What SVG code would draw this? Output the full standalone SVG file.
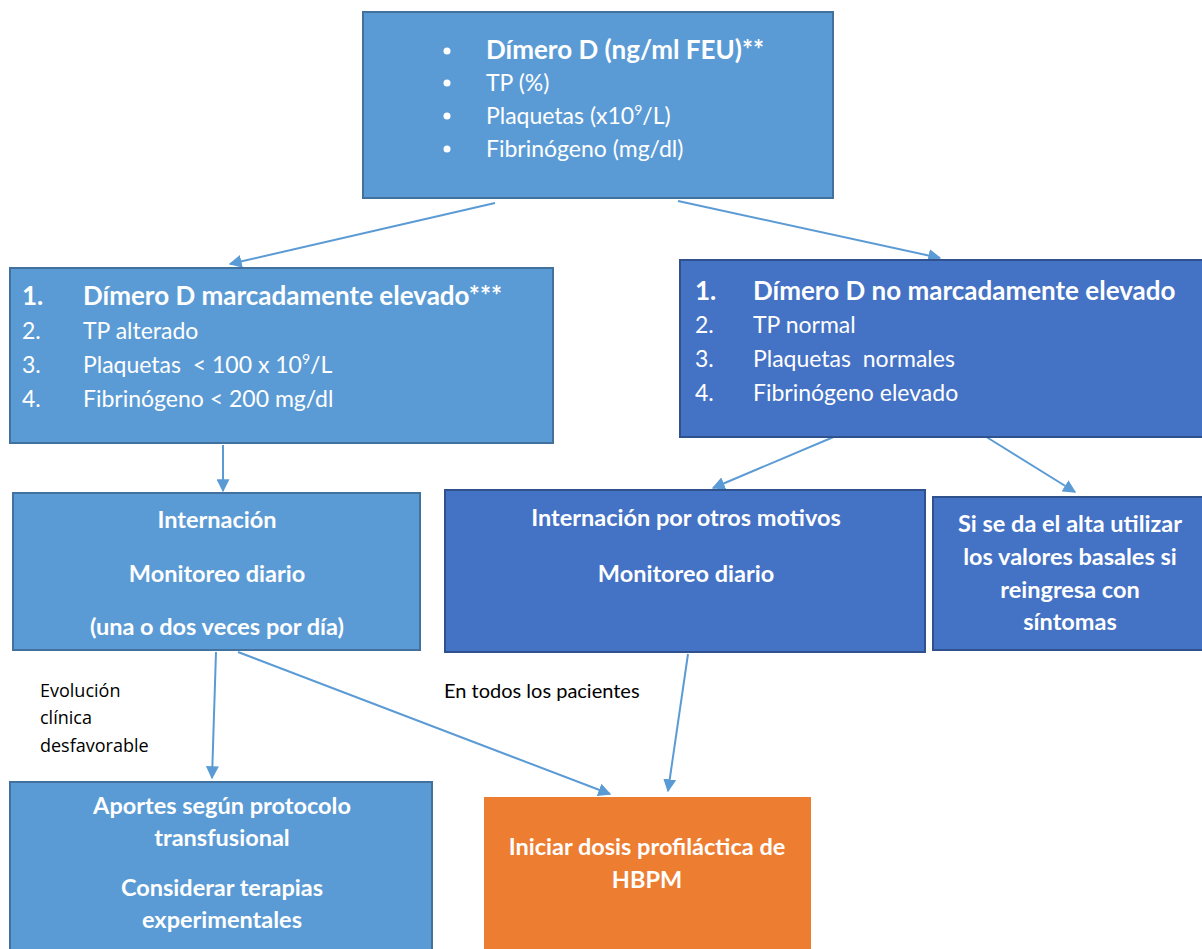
<svg xmlns="http://www.w3.org/2000/svg" width="1202" height="949" viewBox="0 0 1202 949">
<style>
.lb{fill:#5B9BD5;stroke:#41719C;stroke-width:2}
.db{fill:#4472C4;stroke:#2F528F;stroke-width:2}
.ob{fill:#ED7D31;stroke:#ED7D31;stroke-width:2}
.t{font-family:Lato,"Open Sans","Liberation Sans",sans-serif;fill:#fff;font-size:23px}
.h{font-size:26px;font-weight:bold}
.b{font-weight:bold;font-size:23.5px}
.c{text-anchor:middle}
.k{font-family:"Open Sans","Liberation Sans",sans-serif;fill:#000;font-size:18px}
.k2{font-family:Lato,"Liberation Sans",sans-serif;fill:#000;font-size:20px}
.cn{stroke:#5B9BD5;stroke-width:2;fill:none;marker-end:url(#ah)}
</style>
<defs>
<marker id="ah" viewBox="0 0 10 10" refX="9" refY="5" markerWidth="13" markerHeight="13" orient="auto" markerUnits="userSpaceOnUse">
<path d="M0,0 L10,5 L0,10 z" fill="#5B9BD5"/>
</marker>
</defs>
<rect width="1202" height="949" fill="#fff"/>
<g id="connectors">
<line class="cn" x1="495" y1="203" x2="230" y2="264"/>
<line class="cn" x1="678" y1="201" x2="940" y2="258"/>
<line class="cn" x1="223" y1="445" x2="223" y2="491"/>
<line class="cn" x1="843" y1="433" x2="713" y2="488"/>
<line class="cn" x1="980" y1="433" x2="1075" y2="492"/>
<line class="cn" x1="216" y1="652" x2="212" y2="778"/>
<line class="cn" x1="238" y1="652" x2="610" y2="794"/>
<line class="cn" x1="688" y1="654" x2="668" y2="791"/>
</g>
<g id="n-top">
<rect class="lb" x="363" y="12" width="470" height="186"/>
<circle cx="447" cy="51" r="3.5" fill="#fff"/>
<circle cx="447" cy="83" r="3.5" fill="#fff"/>
<circle cx="447" cy="116" r="3.5" fill="#fff"/>
<circle cx="447" cy="149" r="3.5" fill="#fff"/>
<text class="t h" x="486" y="59">Dímero D (ng/ml FEU)**</text>
<text class="t" x="486" y="91">TP (%)</text>
<text class="t" x="486" y="124">Plaquetas (x10<tspan font-size="14" dy="-9">9</tspan><tspan dy="9">/L)</tspan></text>
<text class="t" x="486" y="157">Fibrinógeno (mg/dl)</text>
</g>
<g id="n-elevado">
<rect class="lb" x="10" y="268" width="543" height="175"/>
<text class="t h" x="22" y="305">1.</text><text class="t h" x="83" y="305">Dímero D marcadamente elevado***</text>
<text class="t" x="22" y="339">2.</text><text class="t" x="83" y="339">TP alterado</text>
<text class="t" x="22" y="373">3.</text><text class="t" x="83" y="373" xml:space="preserve">Plaquetas  &lt; 100 x 10<tspan font-size="14" dy="-9">9</tspan><tspan dy="9">/L</tspan></text>
<text class="t" x="22" y="407">4.</text><text class="t" x="83" y="407">Fibrinógeno &lt; 200 mg/dl</text>
</g>
<g id="n-noelevado">
<rect class="db" x="680" y="260" width="530" height="177"/>
<text class="t h" x="695" y="300" font-size="27.5">1.</text><text class="t h" x="753" y="300" font-size="27.5">Dímero D no marcadamente elevado</text>
<text class="t" x="695" y="333">2.</text><text class="t" x="753" y="333">TP normal</text>
<text class="t" x="695" y="367">3.</text><text class="t" x="753" y="367" xml:space="preserve">Plaquetas  normales</text>
<text class="t" x="695" y="401">4.</text><text class="t" x="753" y="401">Fibrinógeno elevado</text>
</g>
<g id="n-internacion">
<rect class="lb" x="13" y="493" width="407" height="157"/>
<text class="t b c" x="217" y="528">Internación</text>
<text class="t b c" x="217" y="582">Monitoreo diario</text>
<text class="t b c" x="217" y="635">(una o dos veces por día)</text>
</g>
<g id="n-otros">
<rect class="db" x="445" y="490" width="480" height="162"/>
<text class="t b c" x="686" y="526">Internación por otros motivos</text>
<text class="t b c" x="686" y="582">Monitoreo diario</text>
</g>
<g id="n-alta">
<rect class="db" x="933" y="497" width="275" height="153"/>
<text class="t b c" x="1070" y="532">Si se da el alta utilizar</text>
<text class="t b c" x="1070" y="565">los valores basales si</text>
<text class="t b c" x="1070" y="598">reingresa con</text>
<text class="t b c" x="1070" y="630">síntomas</text>
</g>
<g id="n-aportes">
<rect class="lb" x="10" y="782" width="422" height="175"/>
<text class="t b c" x="222" y="814">Aportes según protocolo</text>
<text class="t b c" x="222" y="846">transfusional</text>
<text class="t b c" x="222" y="896">Considerar terapias</text>
<text class="t b c" x="222" y="928">experimentales</text>
</g>
<g id="n-hbpm">
<rect class="ob" x="485" y="798" width="325" height="160"/>
<text class="t b c" x="647" y="855">Iniciar dosis profiláctica de</text>
<text class="t b c" x="647" y="888">HBPM</text>
</g>
<g id="labels">
<text class="k" x="40" y="697">Evolución</text>
<text class="k" x="40" y="724">clínica</text>
<text class="k" x="40" y="752">desfavorable</text>
<text class="k2" x="444" y="698">En todos los pacientes</text>
</g>
</svg>
